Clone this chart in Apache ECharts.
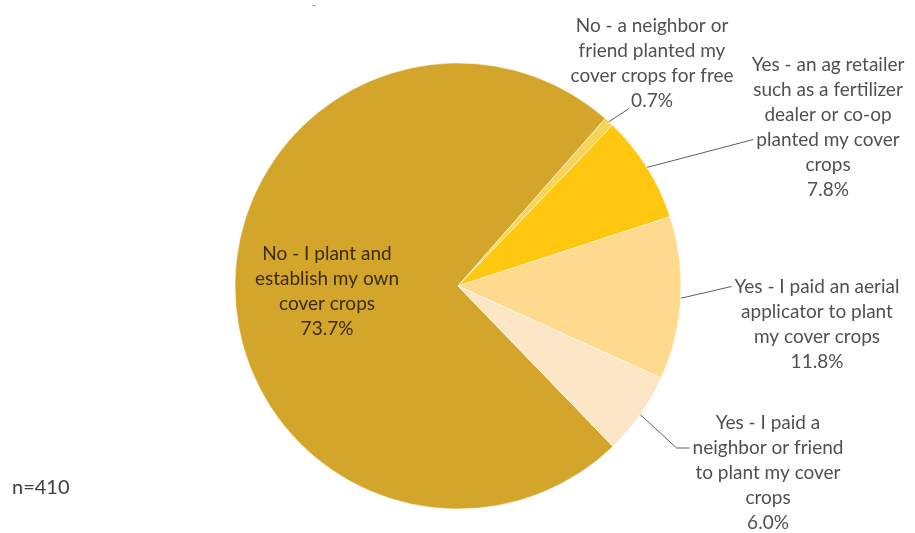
<!DOCTYPE html>
<html>
<head>
<meta charset="utf-8">
<script src="https://cdn.jsdelivr.net/npm/echarts@6/dist/echarts.min.js"></script>
<style>
html,body{margin:0;padding:0;background:#fff;}
#c{width:915px;height:533px;}
</style>
</head>
<body>
<div id="c"></div>
<script>
// ---- data ----
const categories = [
  "No - I plant and establish my own cover crops",
  "No - a neighbor or friend planted my cover crops for free",
  "Yes - an ag retailer such as a fertilizer dealer or co-op planted my cover crops",
  "Yes - I paid an aerial applicator to plant my cover crops",
  "Yes - I paid a neighbor or friend to plant my cover crops"
];
const labelTexts = [
  "No - I plant and\nestablish my own\ncover crops",
  "No - a neighbor or\nfriend planted my\ncover crops for free",
  "Yes - an ag retailer\nsuch as a fertilizer\ndealer or co-op\nplanted my cover\ncrops",
  "Yes - I paid an aerial\napplicator to plant\nmy cover crops",
  "Yes - I paid a\nneighbor or friend\nto plant my cover\ncrops"
];
const values = [73.7, 0.7, 7.8, 11.8, 6.0];
const noteText = "n=410";

// ---- styles / layout ----
const colors = ["#D3A52B", "#F6D45A", "#FFC710", "#FFD98E", "#FDE6C5"];
const labelCenters = [[327, 291], [652, 63], [828, 127], [817, 324], [768, 473]];
const lineRow = [null, 3, 3, 0, 1];
const FONT = "Lato, 'Open Sans', sans-serif";
const FS = 19, LH = 25;

const mctx = document.createElement('canvas').getContext('2d');
mctx.font = FS + "px Lato";
function textW(t) { return mctx.measureText(t).width; }
function fullLabel(i) { return labelTexts[i] + "\n" + values[i].toFixed(1) + "%"; }

const chart = echarts.init(document.getElementById('c'), null, {renderer: 'canvas'});
const data = categories.map((name, i) => ({
  name: name,
  value: values[i],
  itemStyle: {color: colors[i]},
  label: i === 0 ? {position: 'inside', color: '#3b2c05'} : {position: 'outside', color: '#505050'},
  labelLine: {show: i !== 0}
}));

chart.setOption({
  animation: false,
  graphic: [
    {type: 'text', left: 12, top: 478, style: {text: noteText, font: "20px " + FONT, fill: '#404040'}},
    {type: 'text', left: 312, top: 0, style: {text: "-", font: "11px " + FONT, fill: '#777'}}
  ],
  series: [{
    type: 'pie',
    center: [458, 286],
    radius: 223,
    startAngle: -46,
    clockwise: true,
    avoidLabelOverlap: false,
    itemStyle: {borderColor: '#fff', borderWidth: 0.5},
    label: {
      fontFamily: FONT,
      fontSize: FS,
      lineHeight: LH,
      align: 'center',
      formatter: function (p) { return fullLabel(p.dataIndex); }
    },
    labelLine: {lineStyle: {color: '#5e5e5e', width: 1}, length: 10, length2: 10},
    labelLayout: function (p) {
      const i = p.dataIndex;
      const c = labelCenters[i];
      const res = {x: c[0], y: c[1], align: 'center', verticalAlign: 'middle'};
      if (lineRow[i] != null && p.labelLinePoints) {
        const lines = fullLabel(i).split("\n");
        const r = lineRow[i];
        const top = c[1] - lines.length * LH / 2;
        let ex = c[0] - textW(lines[r]) / 2 - 3;
        let ey = top + LH * (r + 0.5);
        if (i === 1) { ey += 8; ex += 1; }
        const a = p.labelLinePoints[0];
        let m;
        if (i === 4) { m = [ex - 13, ey]; }
        else { m = [(a[0] + ex) / 2, (a[1] + ey) / 2]; }
        res.labelLinePoints = [[a[0], a[1]], m, [ex, ey]];
      }
      return res;
    },
    data: data
  }]
});
</script>
</body>
</html>
